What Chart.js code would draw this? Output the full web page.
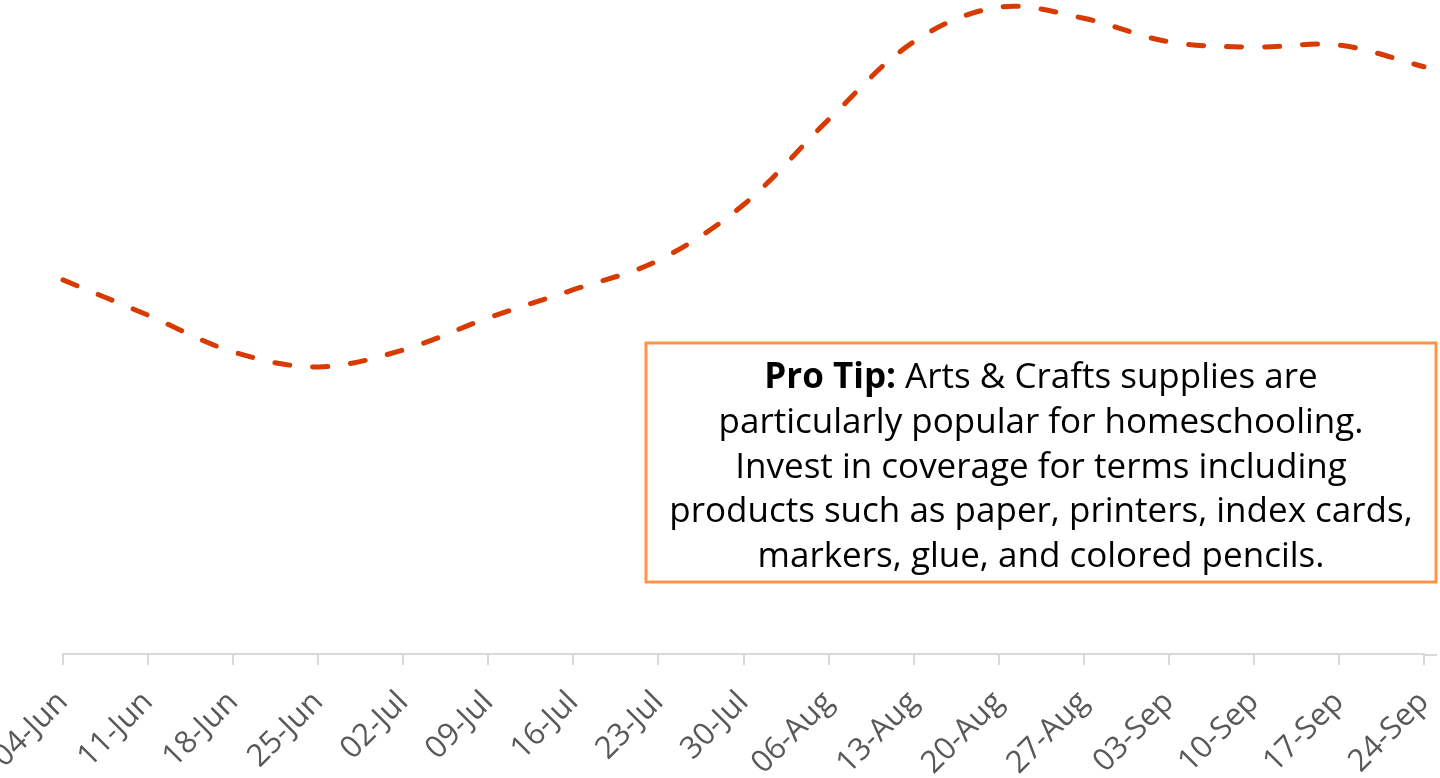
<!DOCTYPE html>
<html>
<head>
<meta charset="utf-8">
<script src="https://cdn.jsdelivr.net/npm/chart.js@4"></script>
<style>
  html, body { margin: 0; padding: 0; background: #fff; }
  #wrap { width: 1440px; height: 778px; }
</style>
</head>
<body>
<div id="wrap"><canvas id="trendChart" width="1440" height="778"></canvas></div>
<script>
// weekly interest index
const weeks = ["04-Jun", "11-Jun", "18-Jun", "25-Jun", "02-Jul", "09-Jul", "16-Jul", "23-Jul", "30-Jul",
  "06-Aug", "13-Aug", "20-Aug", "27-Aug", "03-Sep", "10-Sep", "17-Sep", "24-Sep"];
const interest = [57.2, 51.8, 46.2, 43.9, 46.5, 51.4, 55.7, 60.2, 68.7,
  81.7, 93.6, 98.9, 97.2, 93.6, 92.8, 93.1, 89.8];

const noteLines = [
  [["Pro Tip:", true], [" Arts & Crafts supplies are", false]],
  [["particularly popular for homeschooling.", false]],
  [["Invest in coverage for terms including", false]],
  [["products such as paper, printers, index cards,", false]],
  [["markers, glue, and colored pencils.", false]]
];

const FONT = "'Open Sans', 'Noto Sans', sans-serif";

// draws the tip box and stretches the baseline a little past the last week
const notePlugin = {
  id: "note",
  afterDraw(chart) {
    const c = chart.ctx;
    const area = chart.chartArea;
    c.save();
    c.strokeStyle = "#d9d9d9";
    c.lineWidth = 2;
    c.beginPath();
    c.moveTo(area.right, area.bottom + 1);
    c.lineTo(1437, area.bottom + 1);
    c.stroke();

    const box = { x: 646, y: 343, w: 790, h: 239 };
    c.fillStyle = "#fff";
    c.fillRect(box.x, box.y, box.w, box.h);
    c.strokeStyle = "#ff9448";
    c.lineWidth = 3;
    c.strokeRect(box.x, box.y, box.w, box.h);

    c.fillStyle = "#000";
    c.textBaseline = "middle";
    const cx = box.x + box.w / 2;
    noteLines.forEach((parts, i) => {
      const y = 378 + i * 44.8;
      let total = 0;
      parts.forEach(p => {
        c.font = (p[1] ? "bold " : "") + "35px " + FONT;
        total += c.measureText(p[0]).width;
      });
      let x = cx - total / 2;
      c.textAlign = "left";
      parts.forEach(p => {
        c.font = (p[1] ? "bold " : "") + "35px " + FONT;
        c.fillText(p[0], x, y);
        x += c.measureText(p[0]).width;
      });
    });
    c.restore();
  }
};

const ctx = document.getElementById("trendChart").getContext("2d");
const trendChart = new Chart(ctx, {
  type: "line",
  data: {
    labels: weeks,
    datasets: [
      {
        data: interest,
        borderColor: "#d83b01",
        borderWidth: 5,
        borderDash: [15, 23],
        borderCapStyle: "round",
        fill: false,
        tension: 0.35,
        pointRadius: 0,
        clip: false
      }
    ]
  },
  options: {
    responsive: false,
    animation: false,
    layout: { padding: { top: 0, right: 16, bottom: 0, left: 63 } },
    plugins: {
      legend: { display: false },
      tooltip: { enabled: false }
    },
    scales: {
      x: {
        offset: false,
        afterFit(scale) {
          scale.height = 124;
          scale.paddingLeft = 0;
          scale.paddingRight = 0;
        },
        grid: {
          display: true,
          drawOnChartArea: false,
          drawTicks: true,
          tickLength: 11,
          color: "#d9d9d9",
          lineWidth: 2
        },
        border: { display: true, color: "#d9d9d9", width: 2 },
        ticks: {
          color: "#595959",
          font: { family: FONT, size: 31 },
          minRotation: 45,
          maxRotation: 45,
          padding: 19,
          autoSkip: false
        }
      },
      y: {
        display: false,
        min: 0,
        max: 100
      }
    }
  },
  plugins: [notePlugin]
});
</script>
</body>
</html>
